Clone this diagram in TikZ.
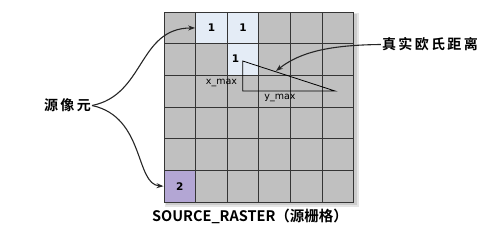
\documentclass[tikz,border=0pt]{standalone}
\usepackage{fontspec}
\setmainfont{Liberation Sans}
\newfontfamily\cjk{Noto Sans CJK SC}[BoldFont={Noto Sans CJK SC Bold}]
\newfontfamily\smallf{DejaVu Sans}
\usetikzlibrary{arrows.meta}
\definecolor{cellgray}{HTML}{C0C0C0}
\definecolor{cellblue}{HTML}{E4ECF6}
\definecolor{cellpurple}{HTML}{B3A6D4}
\definecolor{gridline}{HTML}{353535}
\tikzset{
  cell/.style={draw=gridline, line width=0.9pt, minimum width=31.65pt, minimum height=31.65pt, inner sep=0pt, anchor=north west, font=\smallf\bfseries\fontsize{10.5}{11}\selectfont},
  graycell/.style={cell, fill=cellgray},
  bluecell/.style={cell, fill=cellblue},
  purplecell/.style={cell, fill=cellpurple},
  callout/.style={font=\cjk\bfseries\fontsize{14}{16}\selectfont, inner sep=1pt},
  pointer/.style={line width=1.1pt, draw=black!85, -{Stealth[length=7pt,width=5pt]}},
  measure/.style={line width=0.8pt, draw=black},
  dimlabel/.style={font=\smallf\fontsize{9.5}{10}\selectfont, inner sep=0pt}
}
\begin{document}
\begin{tikzpicture}[x=1pt,y=-1pt]
\useasboundingbox (0,0) rectangle (496,233);
% shadow
\fill[black!10] (165,13.2) rectangle (358.5,206.5);
\fill[black!20] (166,14.2) rectangle (357,205);
% grid
\foreach \r in {0,...,5}{
  \foreach \c in {0,...,5}{
    \node[graycell] (g\r\c) at ({163.5+31.65*\c},{11.7+31.65*\r}) {};
  }
}
\node[bluecell] (c01) at ({163.5+31.65*1},{11.7}) {1};
\node[bluecell] (c02) at ({163.5+31.65*2},{11.7}) {1};
\node[bluecell] (c12) at ({163.5+31.65*2},{11.7+31.65}) {};
\node[purplecell] (c50) at ({163.5},{11.7+31.65*5}) {2};
\node[font=\smallf\bfseries\fontsize{10.5}{11}\selectfont, inner sep=0pt] (one) at (235.5,58.5) {1};
% triangle
\coordinate (ta) at (242.7,61);
\coordinate (tb) at (242.7,91);
\coordinate (tc) at (335,91);
\draw[measure] (ta) -- (tb) -- (tc) -- cycle;
\node[dimlabel] (xm) at (221.5,83) {x\_max};
\node[dimlabel] (ym) at (280,98) {y\_max};
% labels
\node[callout] (src) at (67.5,105.5) {源\,像\,元};
\node[callout] (dist) at (430,44.5) {真\,实\,欧\,氏\,距\,离};
\coordinate (hyp) at (276,71);
\draw[pointer] (src.east) .. controls (145,95) and (138,28) .. (c01.west);
\draw[pointer] (src.east) .. controls (145,117) and (135,184) .. (c50.west);
\draw[pointer] (dist.west) .. controls (330,45) and (300,52) .. (hyp);
\node[font=\cjk\bfseries\fontsize{14.5}{16}\selectfont, inner sep=0pt] (cap) at (250,216.5) {SOURCE\_RASTER（源栅格）};
\end{tikzpicture}
\end{document}
